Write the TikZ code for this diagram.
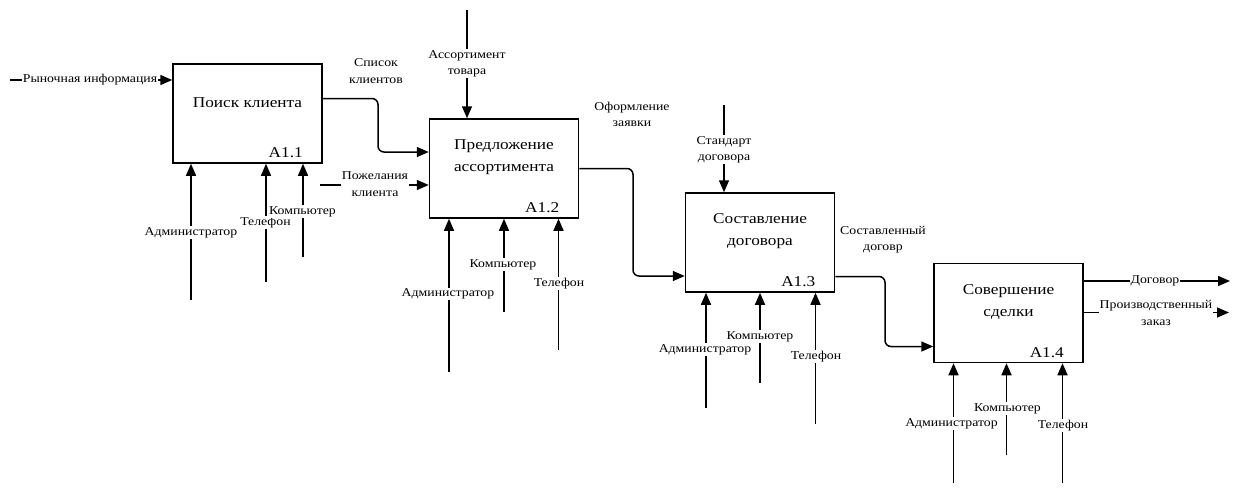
\documentclass[tikz,border=0pt]{standalone}
\usepackage{fontspec}
\setmainfont{Liberation Serif}[FakeStretch=1.15]
\usetikzlibrary{arrows.meta}

\begin{document}
\begin{tikzpicture}[x=1pt,y=-1pt,
  flow/.style={line width=1.5pt, -{Triangle[length=12pt,width=10pt]}, rounded corners=6pt},
  func/.style={draw, line width=1.5pt, minimum width=149pt, minimum height=99pt, inner sep=0pt},
  ftitle/.style={font=\fontsize{15}{21.6}\selectfont, align=center, inner sep=0pt},
  fid/.style={font=\fontsize{15}{18}\selectfont, inner sep=0pt},
  lbl/.style={font=\fontsize{12}{16.3}\selectfont, align=center, inner sep=1pt},
  onl/.style={lbl, fill=white},
]
\useasboundingbox (0,0) rectangle (1241,488);

% ---------- function blocks ----------
\node[func] (b1) at (247.5,113.5) {};
\node[ftitle] (t1) at ([yshift=-39pt]b1.north) {Поиск клиента};
\node[fid] (n1) at ([xshift=-37pt,yshift=11pt]b1.south east) {A1.1};

\node[func] (b2) at (504,168.5) {};
\node[ftitle] (t2) at ([yshift=-39pt]b2.north) {Предложение\\ассортимента};
\node[fid] (n2) at ([xshift=-37pt,yshift=11pt]b2.south east) {A1.2};

\node[func] (b3) at (760,242.5) {};
\node[ftitle] (t3) at ([yshift=-39pt]b3.north) {Составление\\договора};
\node[fid] (n3) at ([xshift=-37pt,yshift=11pt]b3.south east) {A1.3};

\node[func] (b4) at (1008.5,313) {};
\node[ftitle] (t4) at ([yshift=-39pt]b4.north) {Совершение\\сделки};
\node[fid] (n4) at ([xshift=-37pt,yshift=11pt]b4.south east) {A1.4};

% ---------- inputs ----------
\coordinate (in1) at (10,80);
\draw[flow] (in1) -- (in1 -| b1.west);
\node[onl] (lin1) at (90,80) {Рыночная информация};

\coordinate (in2) at (320,185);
\draw[flow] (in2) -- (in2 -| b2.west);
\node[onl] (lin2) at (375,184) {Пожелания\\клиента};

% ---------- outputs between blocks ----------
\coordinate (o1) at ([yshift=15pt]b1.east);
\coordinate (i2) at ([yshift=16.5pt]b2.west);
\draw[flow] (o1) -| (378,152) -- (i2);
\node[lbl] (lo1) at (376,71) {Список\\клиентов};

\coordinate (i3) at ([yshift=-33.5pt]b3.west);
\draw[flow] (b2.east) -| (633,276) -- (i3);
\node[lbl] (lo2) at (632,114.5) {Оформление\\заявки};

\coordinate (o3) at ([yshift=-34pt]b3.east);
\coordinate (i4) at ([yshift=-33.5pt]b4.west);
\draw[flow] (o3) -| (885,346.5) -- (i4);
\node[lbl] (lo3) at (883,240) {Составленный\\договр};

% ---------- final outputs ----------
\coordinate (o4a) at ([yshift=32pt]b4.east);
\coordinate (e4a) at (1230,281);
\draw[flow] (o4a) -- (e4a);
\node[onl] (lo4a) at (1155,280.5) {Договор};

\coordinate (o4b) at ([yshift=0.5pt]b4.east);
\coordinate (e4b) at (1229,312.5);
\draw[flow] (o4b) -- (e4b);
\node[onl] (lo4b) at (1156,313) {Производственный\\заказ};

% ---------- controls ----------
\coordinate (c2) at (467,10);
\draw[flow] (c2) -- (c2 |- b2.north);
\node[onl] (lc2) at (467,63.5) {Ассортимент\\товара};

\coordinate (c3) at (724,105);
\draw[flow] (c3) -- (c3 |- b3.north);
\node[onl] (lc3) at (724,149.5) {Стандарт\\договора};

% ---------- mechanisms ----------
\coordinate (m1a) at (191,300);
\coordinate (m1b) at (266,281.5);
\coordinate (m1c) at (303,256.5);
\draw[flow] (m1a) -- (m1a |- b1.south);
\draw[flow] (m1b) -- (m1b |- b1.south);
\draw[flow] (m1c) -- (m1c |- b1.south);
\node[onl] (lm1a) at (191,232.5) {Администратор};
\node[onl] (lm1b) at (265.5,222.5) {Телефон};
\node[onl] (lm1c) at (302.5,211.5) {Компьютер};

\coordinate (m2a) at (449,371.5);
\coordinate (m2b) at (504,311.5);
\coordinate (m2c) at (558.5,350);
\draw[flow] (m2a) -- (m2a |- b2.south);
\draw[flow] (m2b) -- (m2b |- b2.south);
\draw[flow] (m2c) -- (m2c |- b2.south);
\node[onl] (lm2a) at (448,294) {Администратор};
\node[onl] (lm2b) at (503,264.5) {Компьютер};
\node[onl] (lm2c) at (559,283.5) {Телефон};

\coordinate (m3a) at (706,407.5);
\coordinate (m3b) at (760,382.5);
\coordinate (m3c) at (815.5,423.5);
\draw[flow] (m3a) -- (m3a |- b3.south);
\draw[flow] (m3b) -- (m3b |- b3.south);
\draw[flow] (m3c) -- (m3c |- b3.south);
\node[onl] (lm3b) at (760,336.5) {Компьютер};
\node[onl] (lm3a) at (705,349.5) {Администратор};
\node[onl] (lm3c) at (816,356.5) {Телефон};

\coordinate (m4a) at (953.5,483);
\coordinate (m4b) at (1006.5,455);
\coordinate (m4c) at (1062.5,483);
\draw[flow] (m4a) -- (m4a |- b4.south);
\draw[flow] (m4b) -- (m4b |- b4.south);
\draw[flow] (m4c) -- (m4c |- b4.south);
\node[onl] (lm4b) at (1007.5,408.5) {Компьютер};
\node[onl] (lm4a) at (951.5,423.5) {Администратор};
\node[onl] (lm4c) at (1063,425.5) {Телефон};
\end{tikzpicture}
\end{document}
